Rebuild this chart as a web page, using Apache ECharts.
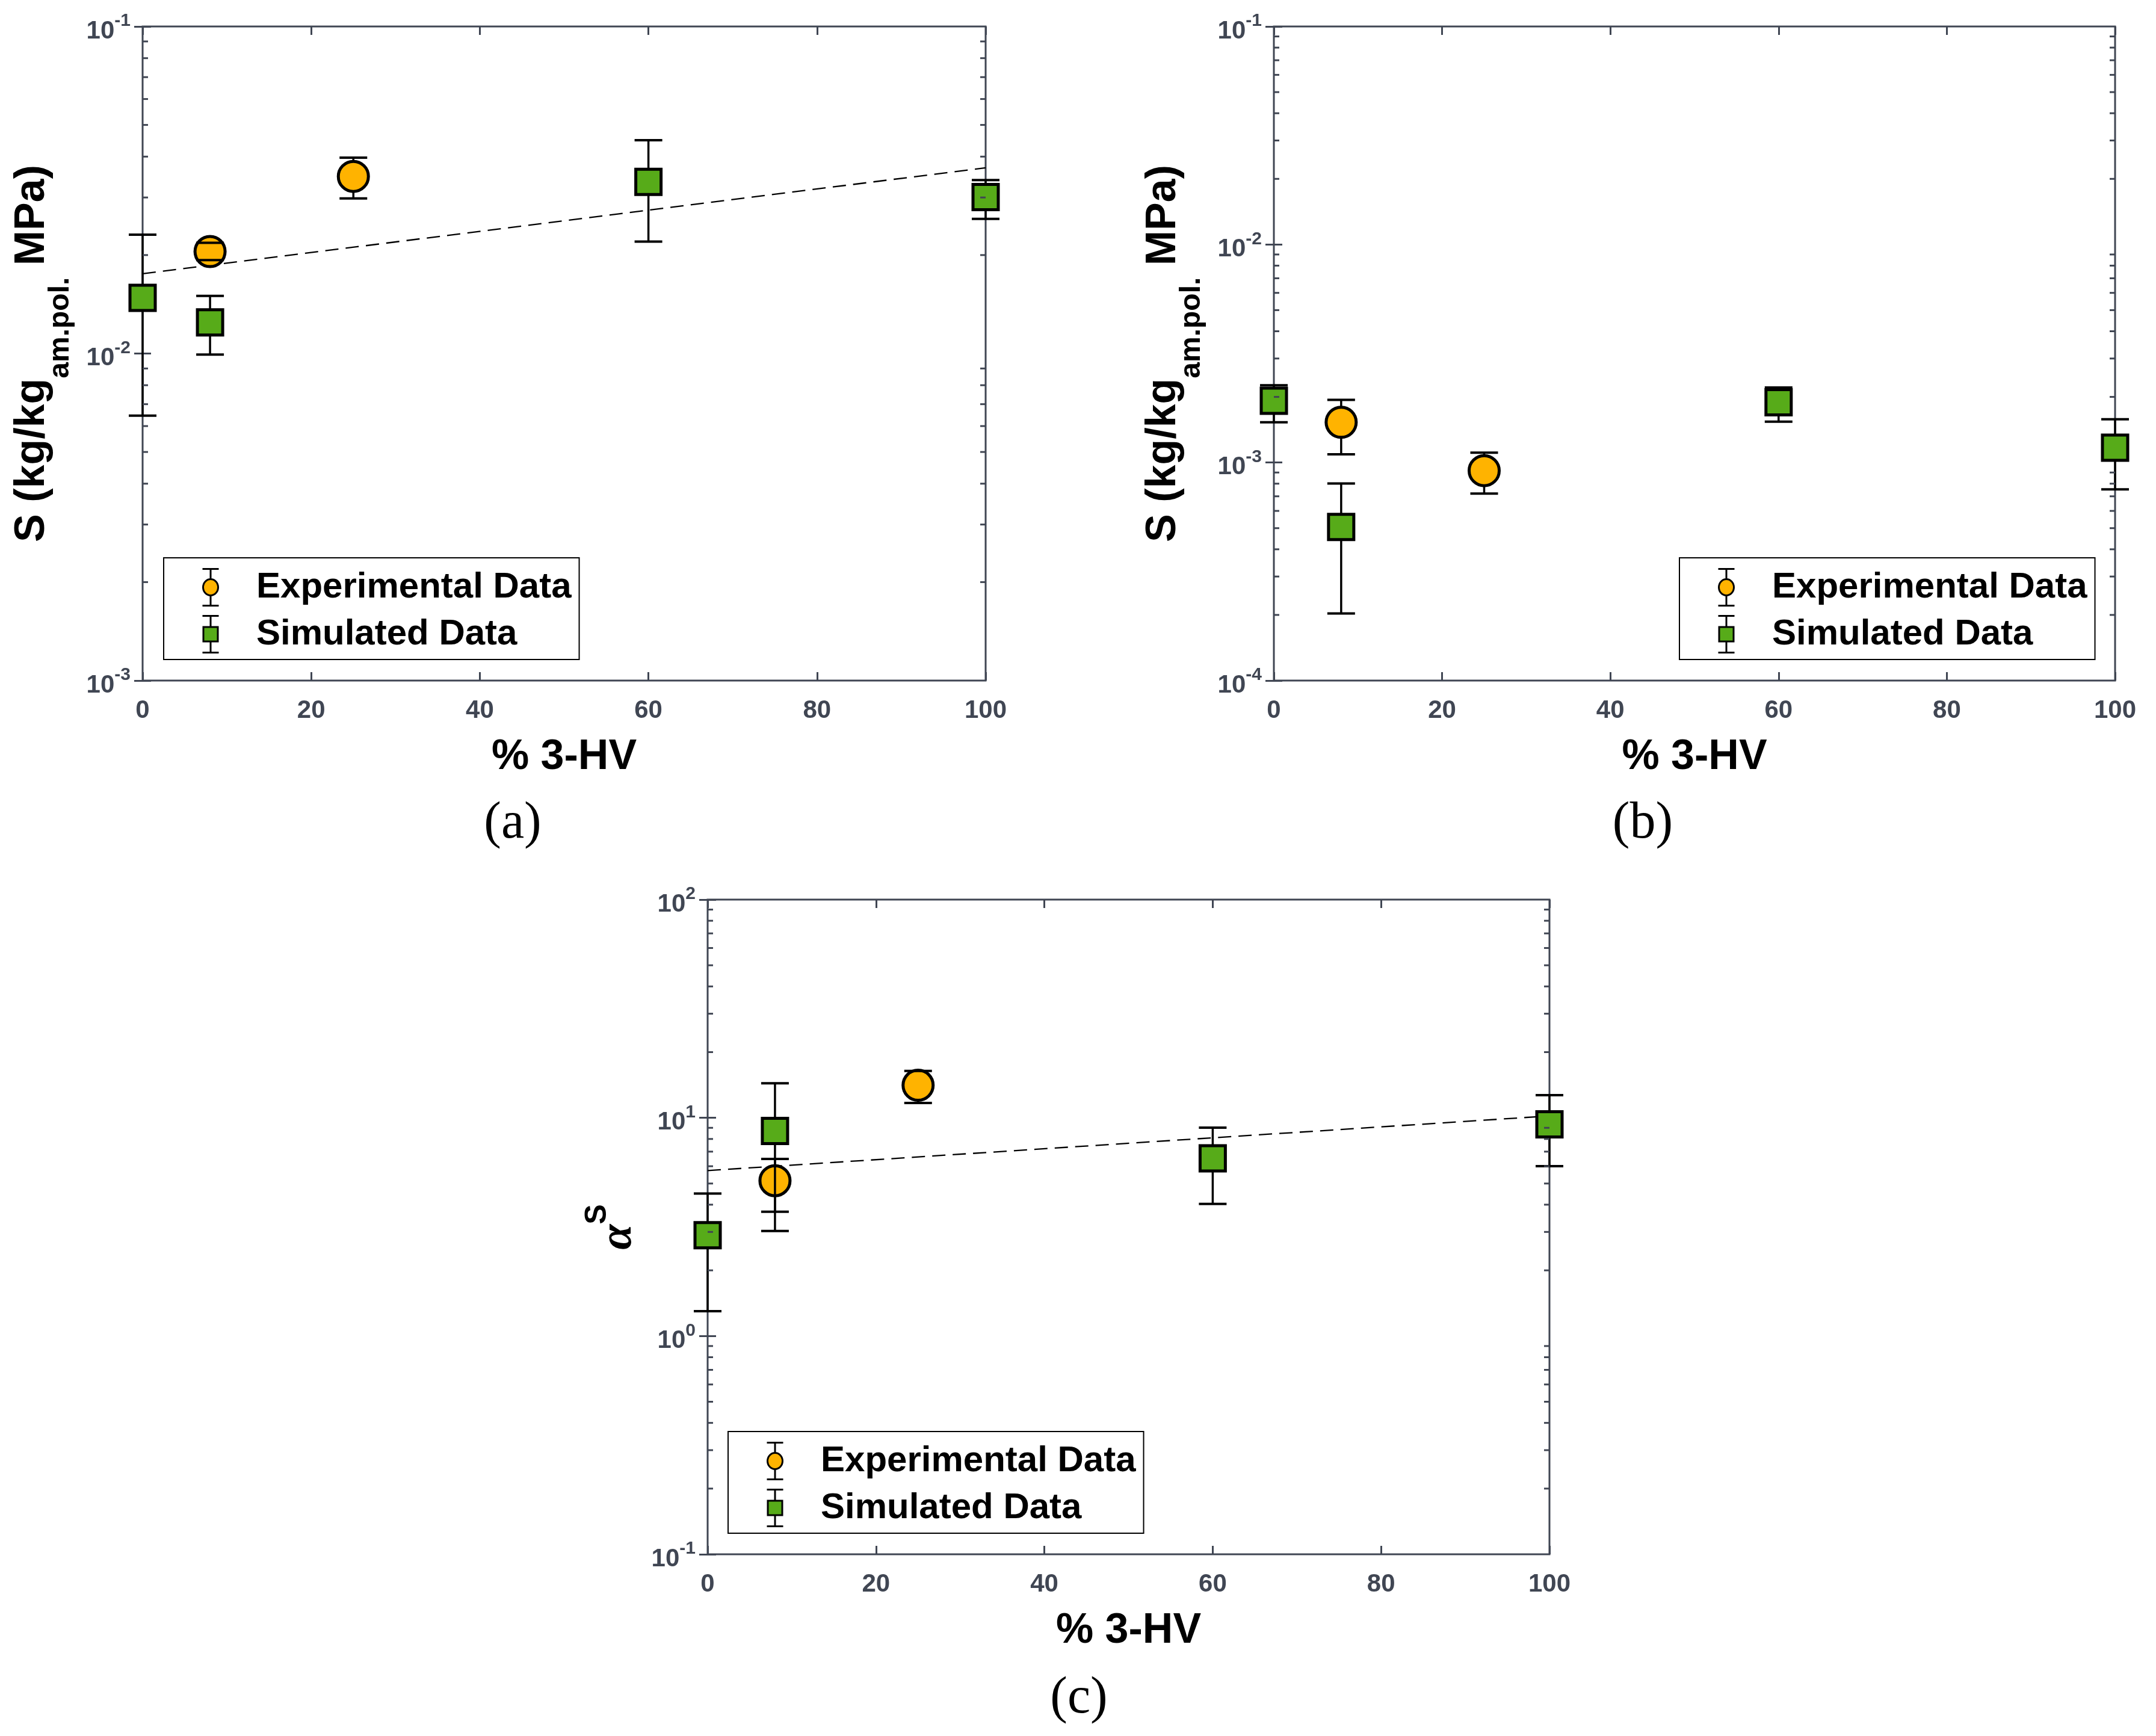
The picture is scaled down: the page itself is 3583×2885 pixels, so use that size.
<!DOCTYPE html>
<html>
<head>
<meta charset="utf-8">
<script src="https://cdn.jsdelivr.net/npm/echarts@6/dist/echarts.min.js"></script>
<style>
html,body{margin:0;padding:0;background:#ffffff;}
#chart{width:3583px;height:2885px;}
</style>
</head>
<body>
<div id="chart"></div>
<script>
// ================= DATA =================
const xTickValues = [0, 20, 40, 60, 80, 100];
const xTitle = '% 3-HV';
const legendNames = ['Experimental Data', 'Simulated Data'];

// Panel (a)
const aExpX  = [8, 25];
const aExpY  = [0.0205, 0.0348];
const aExpLo = [0.0193, 0.0298];
const aExpHi = [0.0218, 0.0397];
const aSimX  = [0, 8, 60, 100];
const aSimY  = [0.0148, 0.01245, 0.0335, 0.0301];
const aSimLo = [0.00646, 0.00993, 0.0220, 0.0258];
const aSimHi = [0.0231, 0.0150, 0.0449, 0.0339];
const aFitX  = [0, 100];
const aFitY  = [0.01754, 0.03698];
const aYTicks = [0.001, 0.01, 0.1];
const aYExp   = ['-3', '-2', '-1'];
const aMinor  = [0.002, 0.003, 0.004, 0.005, 0.006, 0.007, 0.008, 0.009,
                 0.02, 0.03, 0.04, 0.05, 0.06, 0.07, 0.08, 0.09];

// Panel (b)
const bExpX  = [8, 25];
const bExpY  = [0.00153, 0.000918];
const bExpLo = [0.00109, 0.000720];
const bExpHi = [0.00194, 0.00111];
const bSimX  = [0, 8, 60, 100];
const bSimY  = [0.00192, 0.000506, 0.00189, 0.00117];
const bSimLo = [0.00153, 0.000203, 0.00154, 0.000753];
const bSimHi = [0.00226, 0.000801, 0.00221, 0.00158];
const bYTicks = [0.0001, 0.001, 0.01, 0.1];
const bYExp   = ['-4', '-3', '-2', '-1'];
const bMinor  = [0.0002, 0.0003, 0.0004, 0.0005, 0.0006, 0.0007, 0.0008, 0.0009,
                 0.002, 0.003, 0.004, 0.005, 0.006, 0.007, 0.008, 0.009,
                 0.02, 0.03, 0.04, 0.05, 0.06, 0.07, 0.08, 0.09];

// Panel (c)
const cExpX  = [8, 25];
const cExpY  = [5.15, 14.1];
const cExpLo = [3.71, 11.7];
const cExpHi = [6.48, 16.4];
const cSimX  = [0, 8, 60, 100];
const cSimY  = [2.9, 8.7, 6.52, 9.34];
const cSimLo = [1.3, 3.03, 4.03, 6.0];
const cSimHi = [4.5, 14.4, 9.01, 12.7];
const cFitX  = [0, 100];
const cFitY  = [5.73, 10.2];
const cYTicks = [0.1, 1, 10, 100];
const cYExp   = ['-1', '0', '1', '2'];
const cMinor  = [0.2, 0.3, 0.4, 0.5, 0.6, 0.7, 0.8, 0.9,
                 2, 3, 4, 5, 6, 7, 8, 9,
                 20, 30, 40, 50, 60, 70, 80, 90];

// ================= STYLE =================
const AX = '#404653';
const ORANGE = '#FFB300';
const GREEN = '#57AB19';
const SANS = '"Liberation Sans", Arial, Helvetica, sans-serif';
const SERIF = '"Liberation Serif", "Times New Roman", serif';

const zip = (xs, ys) => xs.map((x, i) => [x, ys[i]]);
const zipErr = (xs, ys, lo, hi) => xs.map((x, i) => [x, lo[i], hi[i], ys[i]]);

const panels = [
  { key: 'a', grid: { left: 237, top: 44, width: 1401, height: 1087 },
    yMin: 0.001, yMax: 0.1, yTicks: aYTicks, yExp: aYExp, minor: aMinor,
    expX: aExpX, expY: aExpY, expLo: aExpLo, expHi: aExpHi,
    simX: aSimX, simY: aSimY, simLo: aSimLo, simHi: aSimHi,
    fitX: aFitX, fitY: aFitY, yName: 'S', legend: [272, 927], label: ['(a)', 852, 1369] },
  { key: 'b', grid: { left: 2117, top: 44, width: 1398, height: 1087 },
    yMin: 0.0001, yMax: 0.1, yTicks: bYTicks, yExp: bYExp, minor: bMinor,
    expX: bExpX, expY: bExpY, expLo: bExpLo, expHi: bExpHi,
    simX: bSimX, simY: bSimY, simLo: bSimLo, simHi: bSimHi,
    fitX: null, fitY: null, yName: 'S', legend: [2791, 927], label: ['(b)', 2730, 1369] },
  { key: 'c', grid: { left: 1176, top: 1495, width: 1399, height: 1088 },
    yMin: 0.1, yMax: 100, yTicks: cYTicks, yExp: cYExp, minor: cMinor,
    expX: cExpX, expY: cExpY, expLo: cExpLo, expHi: cExpHi,
    simX: cSimX, simY: cSimY, simLo: cSimLo, simHi: cSimHi,
    fitX: cFitX, fitY: cFitY, yName: 'alpha', legend: [1210, 2379], label: ['(c)', 1793, 2823] }
];

const CIRCLE_SIZE = 50, SQUARE_SIZE = 42, MARKER_BORDER = 5;

function errRender(markerHalf) {
  return function (params, api) {
    const x = api.value(0), lo = api.value(1), hi = api.value(2), c = api.value(3);
    const pc = api.coord([x, c]);
    const pl = api.coord([x, lo]);
    const ph = api.coord([x, hi]);
    const cap = 23;
    const ch = [];
    if (ph[1] < pc[1] - markerHalf) {
      ch.push({ type: 'line', shape: { x1: pc[0], y1: ph[1], x2: pc[0], y2: pc[1] - markerHalf },
                style: { stroke: '#000', lineWidth: 3.5 } });
    }
    if (pl[1] > pc[1] + markerHalf) {
      ch.push({ type: 'line', shape: { x1: pc[0], y1: pc[1] + markerHalf, x2: pc[0], y2: pl[1] },
                style: { stroke: '#000', lineWidth: 3.5 } });
    }
    ch.push({ type: 'line', shape: { x1: pc[0] - cap, y1: ph[1], x2: pc[0] + cap, y2: ph[1] },
              style: { stroke: '#000', lineWidth: 4 } });
    ch.push({ type: 'line', shape: { x1: pc[0] - cap, y1: pl[1], x2: pc[0] + cap, y2: pl[1] },
              style: { stroke: '#000', lineWidth: 4 } });
    return { type: 'group', children: ch };
  };
}

function minorRender(params, api) {
  const v = api.value(1);
  const cs = params.coordSys;
  const y = api.coord([0, v])[1];
  return { type: 'group', children: [
    { type: 'line', shape: { x1: cs.x, y1: y, x2: cs.x + 9, y2: y }, style: { stroke: AX, lineWidth: 3 } },
    { type: 'line', shape: { x1: cs.x + cs.width - 9, y1: y, x2: cs.x + cs.width, y2: y }, style: { stroke: AX, lineWidth: 3 } }
  ] };
}

const expIcon = 'path://M13.5 0 L13.5 17 M13.5 44 L13.5 61 M0 0 L27 0 M0 61 L27 61 ' +
  'M1 30.5 A12.5 13.5 0 1 1 26 30.5 A12.5 13.5 0 1 1 1 30.5 Z M84.5 30.5 L84.5 30.5';
const simIcon = 'path://M13.5 0 L13.5 18.5 M13.5 42.5 L13.5 61 M0 0 L27 0 M0 61 L27 61 ' +
  'M1.5 18.5 L25.5 18.5 L25.5 42.5 L1.5 42.5 Z M84.5 30.5 L84.5 30.5';

const grids = [], xAxes = [], yAxes = [], series = [], legends = [], graphics = [];

const tickLabelStyle = { fontFamily: SANS, fontWeight: 'bold', fontSize: 42, color: AX };

panels.forEach((p, i) => {
  grids.push(Object.assign({ show: true, borderColor: AX, borderWidth: 3, backgroundColor: 'transparent',
                              containLabel: false, outerBoundsMode: 'none' }, p.grid));
  // bottom x
  xAxes.push({
    gridIndex: i, type: 'value', position: 'bottom', min: 0, max: 100, interval: 20,
    axisLine: { show: false, onZero: false },
    axisTick: { show: true, inside: true, length: 14, lineStyle: { color: AX, width: 3 } },
    axisLabel: Object.assign({ margin: 50, verticalAlign: 'middle', showMinLabel: true, showMaxLabel: true }, tickLabelStyle),
    splitLine: { show: false },
    name: xTitle, nameLocation: 'middle', nameGap: 128, nameMoveOverlap: false,
    nameTextStyle: { fontFamily: SANS, fontWeight: 'bold', fontSize: 70, color: '#000', verticalAlign: 'middle' }
  });
  // top x (mirror ticks)
  xAxes.push({
    gridIndex: i, type: 'value', position: 'top', min: 0, max: 100, interval: 20,
    axisLine: { show: false, onZero: false },
    axisTick: { show: true, inside: true, length: 14, lineStyle: { color: AX, width: 3 } },
    axisLabel: { show: false }, splitLine: { show: false }
  });
  const ticks = p.yTicks, exps = p.yExp;
  let yNameCfg;
  if (p.yName === 'S') {
    yNameCfg = {
      name: '{m|S (kg/kg}{u|am.pol.}{m| MPa)}', nameGap: 183,
      nameTextStyle: { verticalAlign: 'middle', align: 'center', rich: {
        m: { fontFamily: SANS, fontWeight: 'bold', fontSize: 70, lineHeight: 70, color: '#000' },
        u: { fontFamily: SANS, fontWeight: 'bold', fontSize: 48, lineHeight: 50, color: '#000', padding: [94, 0, 0, 0] }
      } }
    };
  } else {
    yNameCfg = {
      name: '{a|α}{s|S}', nameGap: 148,
      nameTextStyle: { verticalAlign: 'middle', align: 'center', rich: {
        a: { fontFamily: SERIF, fontStyle: 'italic', fontWeight: 'bold', fontSize: 76, lineHeight: 76, color: '#000' },
        s: { fontFamily: SANS, fontWeight: 'bold', fontSize: 50, lineHeight: 50, color: '#000', padding: [0, 0, 70, 0] }
      } }
    };
  }
  yAxes.push(Object.assign({
    gridIndex: i, type: 'log', logBase: 10, position: 'left', min: p.yMin, max: p.yMax,
    axisLine: { show: false },
    axisTick: { show: true, inside: true, length: 14, lineStyle: { color: AX, width: 3 } },
    minorTick: { show: false },
    axisLabel: {
      margin: 20, showMinLabel: true, showMaxLabel: true,
      formatter: function (v) {
        let k = 0, best = Infinity;
        ticks.forEach((t, j) => { const d = Math.abs(Math.log10(t) - Math.log10(v)); if (d < best) { best = d; k = j; } });
        return '{b|10}{s|' + exps[k] + '}';
      },
      rich: {
        b: { fontFamily: SANS, fontWeight: 'bold', fontSize: 42, color: AX, padding: [16, 0, 0, 0] },
        s: { fontFamily: SANS, fontWeight: 'bold', fontSize: 30, color: AX, verticalAlign: 'top', padding: [5, 0, 0, 0] }
      }
    },
    splitLine: { show: false },
    nameLocation: 'middle', nameRotate: 90, nameMoveOverlap: false
  }, yNameCfg));
  // right y (mirror ticks)
  yAxes.push({
    gridIndex: i, type: 'log', logBase: 10, position: 'right', min: p.yMin, max: p.yMax,
    axisLine: { show: false },
    axisTick: { show: true, inside: true, length: 14, lineStyle: { color: AX, width: 3 } },
    axisLabel: { show: false }, splitLine: { show: false }, minorTick: { show: false }
  });

  const xi = 2 * i, yi = 2 * i;
  if (p.fitX) {
    series.push({
      type: 'line', name: 'fit-' + p.key, xAxisIndex: xi, yAxisIndex: yi, data: zip(p.fitX, p.fitY),
      symbol: 'none', silent: true, z: 1, clip: false,
      lineStyle: { color: '#000', width: 2.3, type: [22, 12] }
    });
  }
  series.push({
    type: 'scatter', name: legendNames[0], xAxisIndex: xi, yAxisIndex: yi, data: zip(p.expX, p.expY),
    symbol: 'circle', symbolSize: CIRCLE_SIZE, z: 2, clip: false, silent: true,
    itemStyle: { color: ORANGE, borderColor: '#000', borderWidth: MARKER_BORDER, opacity: 1 }
  });
  series.push({
    type: 'scatter', name: legendNames[1], xAxisIndex: xi, yAxisIndex: yi, data: zip(p.simX, p.simY),
    symbol: 'rect', symbolSize: SQUARE_SIZE, z: 2, clip: false, silent: true,
    itemStyle: { color: GREEN, borderColor: '#000', borderWidth: MARKER_BORDER, opacity: 1 }
  });
  series.push({
    type: 'custom', name: 'err-exp-' + p.key, coordinateSystem: 'cartesian2d', xAxisIndex: xi, yAxisIndex: yi,
    data: zipErr(p.expX, p.expY, p.expLo, p.expHi), encode: { x: 0, y: [1, 2, 3] },
    renderItem: errRender(CIRCLE_SIZE / 2), z: 3, silent: true, clip: false
  });
  series.push({
    type: 'custom', name: 'err-sim-' + p.key, coordinateSystem: 'cartesian2d', xAxisIndex: xi, yAxisIndex: yi,
    data: zipErr(p.simX, p.simY, p.simLo, p.simHi), encode: { x: 0, y: [1, 2, 3] },
    renderItem: errRender(SQUARE_SIZE / 2), z: 3, silent: true, clip: false
  });
  series.push({
    type: 'custom', name: 'minor-' + p.key, coordinateSystem: 'cartesian2d', xAxisIndex: xi, yAxisIndex: yi,
    data: p.minor.map(v => [0, v]), encode: { x: 0, y: 1 },
    renderItem: minorRender, z: 5, silent: true, clip: false
  });

  legends.push({
    left: p.legend[0], top: p.legend[1], orient: 'vertical', selectedMode: false,
    padding: [17, 13, 10, 63], itemGap: 14, itemWidth: 84.5, itemHeight: 61,
    borderColor: '#000', borderWidth: 2, backgroundColor: '#ffffff', borderRadius: 0,
    textStyle: { fontFamily: SANS, fontWeight: 'bold', fontSize: 60, color: '#000' },
    data: [
      { name: legendNames[0], icon: expIcon, itemStyle: { color: ORANGE, borderColor: '#000', borderWidth: 3 } },
      { name: legendNames[1], icon: simIcon, itemStyle: { color: GREEN, borderColor: '#000', borderWidth: 3 } }
    ]
  });

  graphics.push({
    type: 'text', x: p.label[1], y: p.label[2], silent: true,
    style: { text: p.label[0], fontFamily: SERIF, fontSize: 86, fill: '#000', align: 'center', verticalAlign: 'middle' }
  });
});

const chart = echarts.init(document.getElementById('chart'), null, { renderer: 'canvas', width: 3583, height: 2885 });
chart.setOption({
  backgroundColor: '#ffffff',
  animation: false,
  grid: grids,
  xAxis: xAxes,
  yAxis: yAxes,
  legend: legends,
  graphic: graphics,
  series: series
});
</script>
</body>
</html>
